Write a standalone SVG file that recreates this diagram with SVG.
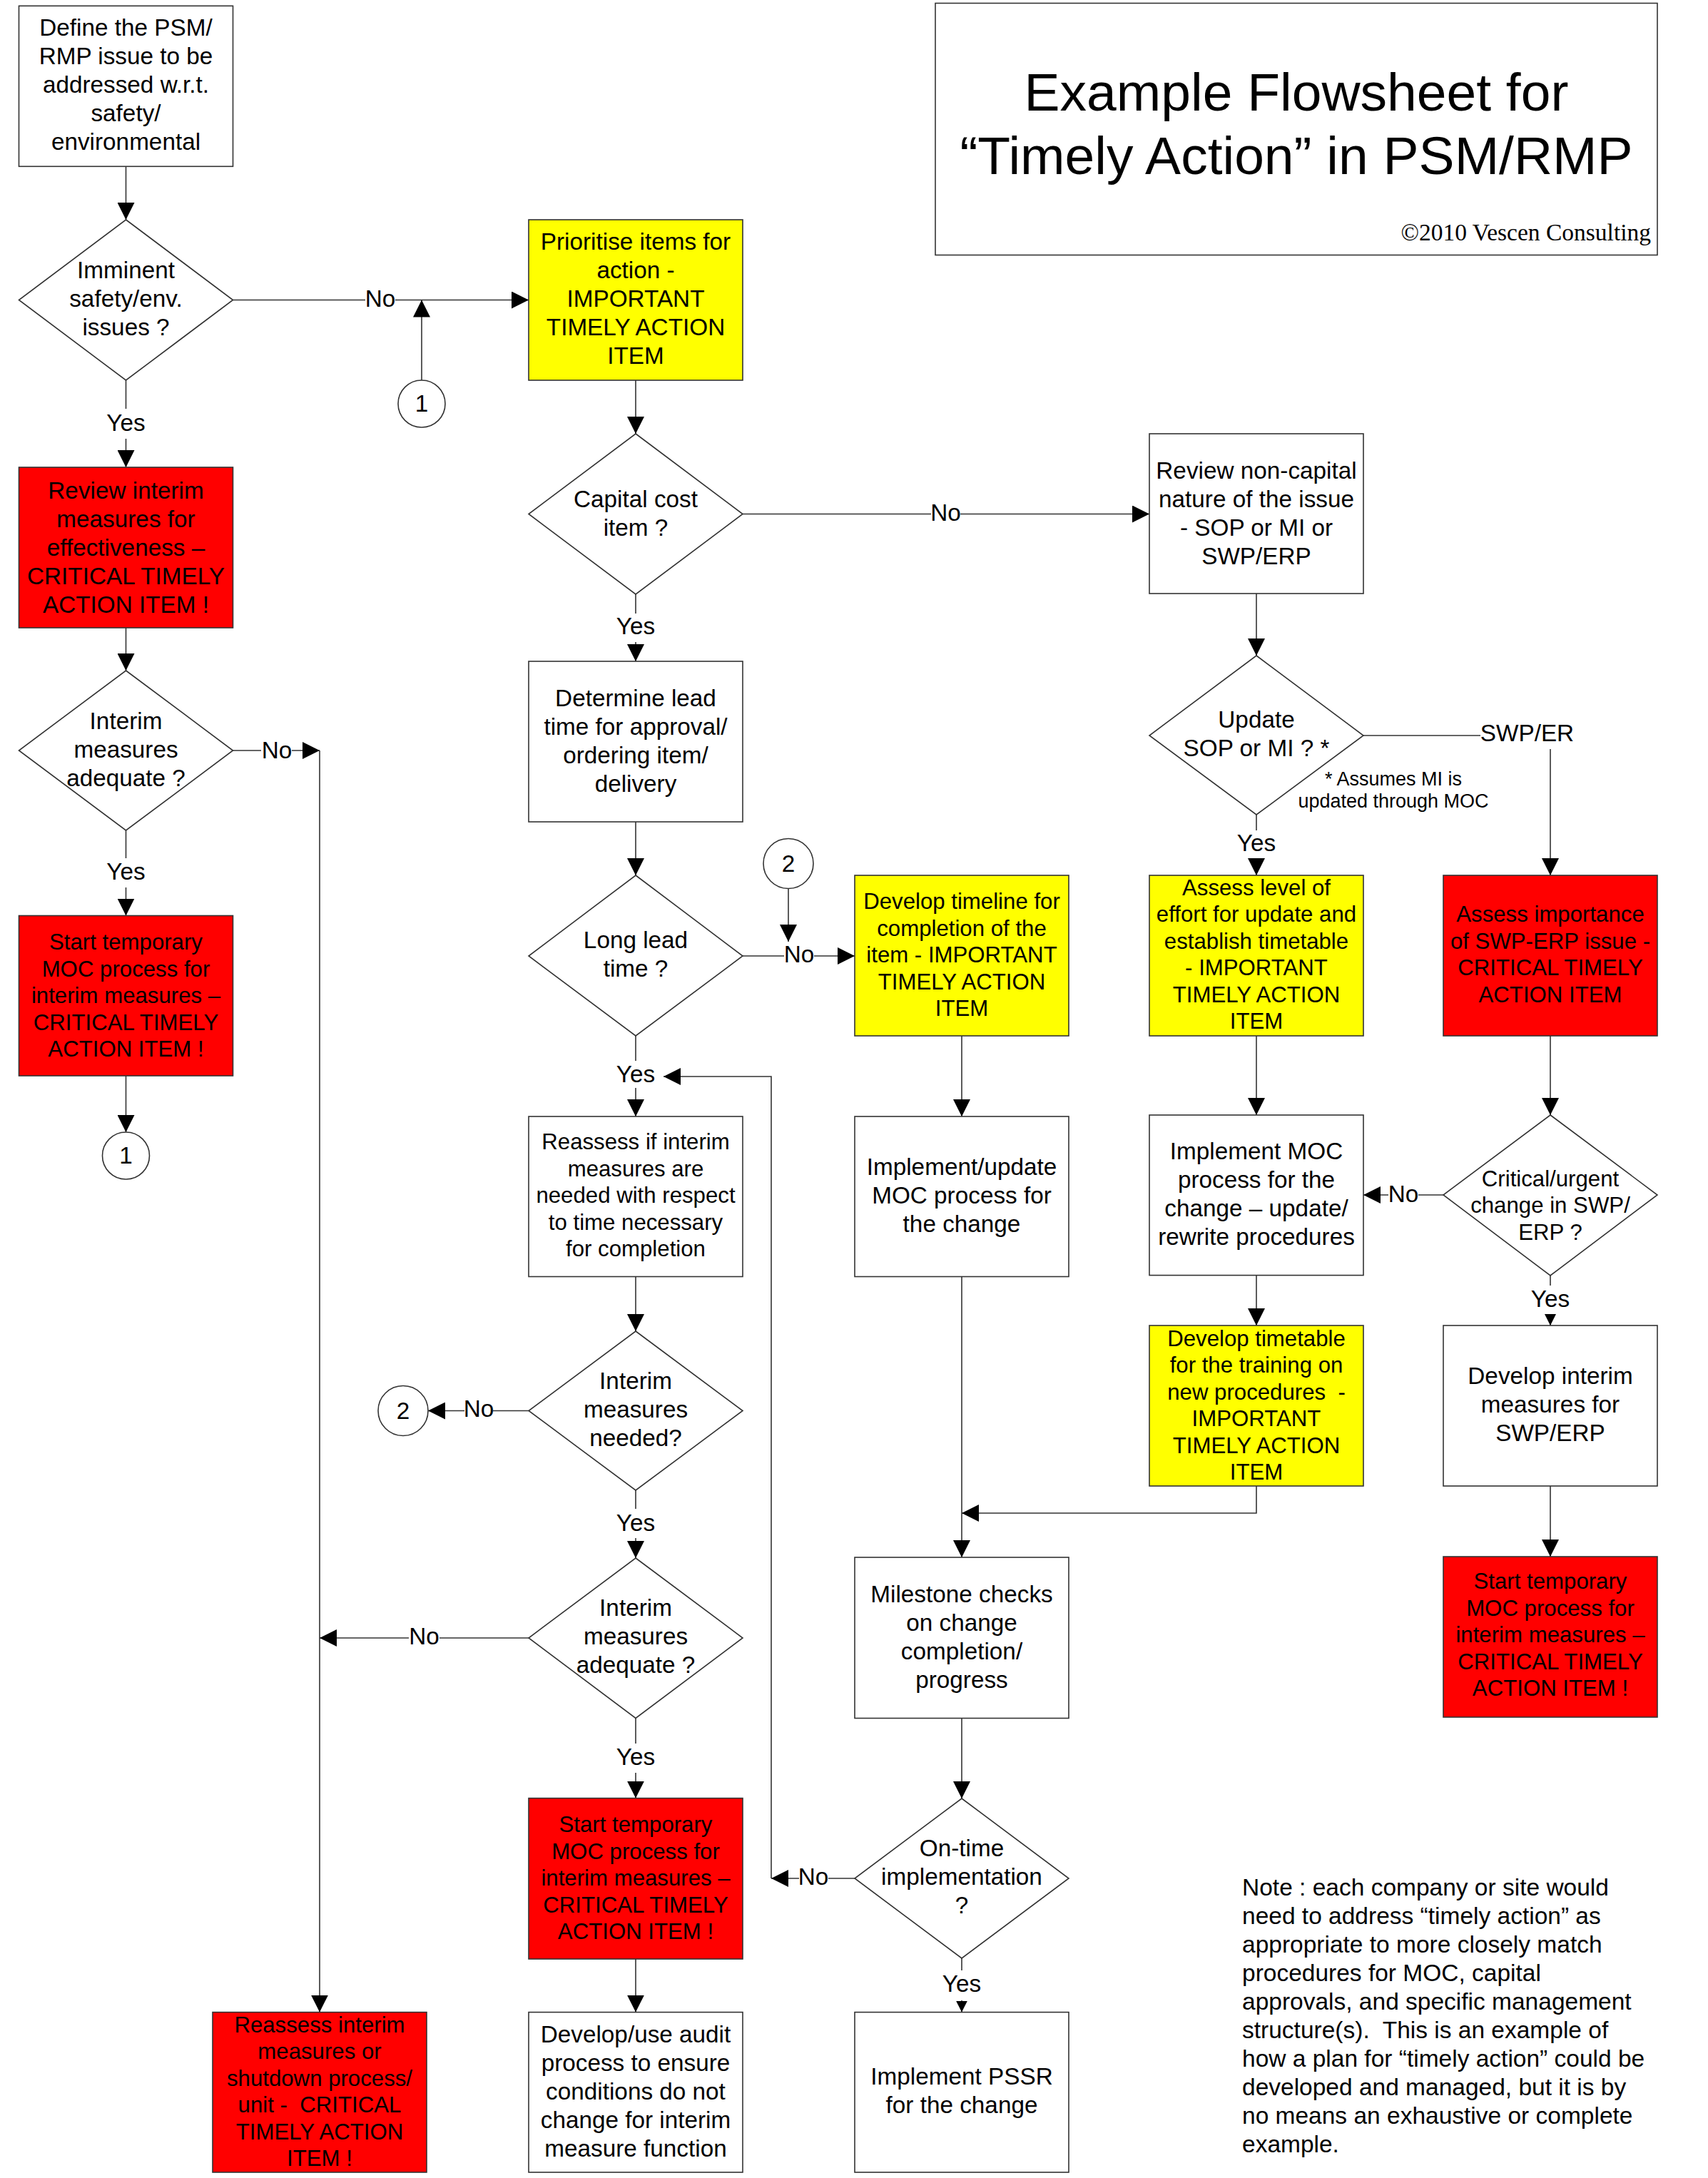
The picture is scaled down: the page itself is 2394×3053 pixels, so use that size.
<svg xmlns="http://www.w3.org/2000/svg" width="2394" height="3053" viewBox="0 0 2394 3053">
<style>
.bx{stroke:#333;stroke-width:1.6}
.w{fill:#fff}.y{fill:#ff0}.r{fill:#f00}
.t{font-family:"Liberation Sans",Arial,sans-serif;font-size:33.3px;text-anchor:middle;fill:#000}
.s{font-size:31.2px}
.ln{fill:none;stroke:#333;stroke-width:1.6}
.a{marker-end:url(#ah)}
.as{marker-end:url(#ahs)}
</style>
<defs>
<marker id="ah" markerUnits="userSpaceOnUse" markerWidth="24" markerHeight="24" viewBox="0 0 24 24" refX="24" refY="12" orient="auto"><path d="M0,0 L24,12 L0,24 z" fill="#000"/></marker>
<marker id="ahs" markerUnits="userSpaceOnUse" markerWidth="16" markerHeight="16" viewBox="0 0 16 16" refX="16" refY="8" orient="auto"><path d="M0,0 L16,8 L0,16 z" fill="#000"/></marker>
</defs>
<rect x="0" y="0" width="2394" height="3053" fill="#fff"/>

<g id="connectors">
<path class="ln a" d="M176.5,233 V308"/>
<path class="ln" d="M176.5,533 V573"/><path class="ln a" d="M176.5,615 V655"/>
<path class="ln" d="M326.5,420.5 H512"/><path class="ln a" d="M554,420.5 H741"/>
<path class="ln a" d="M591,533 V420.5"/>
<path class="ln a" d="M176.5,880 V940"/>
<path class="ln" d="M326.5,1052 H366"/><path class="ln a" d="M409,1052 H448"/>
<path class="ln a" d="M448,1052 V2820.6"/>
<path class="ln" d="M176.5,1164 V1203"/><path class="ln a" d="M176.5,1244 V1283.5"/>
<path class="ln a" d="M176.5,1508 V1587"/>
<path class="ln a" d="M891,533 V608"/>
<path class="ln" d="M1041,720.5 H1305"/><path class="ln a" d="M1346,720.5 H1611"/>
<path class="ln" d="M891,833 V860"/><path class="ln a" d="M891,900 V927"/>
<path class="ln a" d="M891,1152 V1227"/>
<path class="ln" d="M1041,1340 H1099"/><path class="ln a" d="M1141,1340 H1198"/>
<path class="ln a" d="M1105,1245.5 V1320"/>
<path class="ln" d="M891,1452 V1487"/><path class="ln a" d="M891,1525 V1565"/>
<path class="ln" d="M1198,2633 H1161"/><path class="ln a" d="M1120,2633 H1081"/>
<path class="ln a" d="M1081,2633 V1509 H930"/>
<path class="ln a" d="M1761,832 V919"/>
<path class="ln" d="M1911,1031 H2075"/><path class="ln a" d="M2173,1050 V1227"/>
<path class="ln" d="M1761,1142 V1164"/><path class="ln a" d="M1761,1203 V1227"/>
<path class="ln a" d="M1348,1452 V1565"/>
<path class="ln a" d="M1761,1452 V1563"/>
<path class="ln a" d="M2173,1452 V1563"/>
<path class="ln" d="M2023,1675 H1988"/><path class="ln a" d="M1946,1675 H1911"/>
<path class="ln" d="M2173,1788 V1802"/><path class="ln as" d="M2173,1842 V1858"/>
<path class="ln a" d="M1761,1787.6 V1858"/>
<path class="ln a" d="M1761,2083 V2121 H1348"/>
<path class="ln a" d="M1348,1789.5 V2183"/>
<path class="ln a" d="M2173,2083 V2182"/>
<path class="ln a" d="M891,1789.5 V1866"/>
<path class="ln" d="M741,1977.5 H691"/><path class="ln a" d="M651,1977.5 H600"/>
<path class="ln" d="M891,2089 V2115"/><path class="ln a" d="M891,2156 V2184"/>
<path class="ln" d="M741,2296 H616"/><path class="ln a" d="M573,2296 H448"/>
<path class="ln" d="M891,2408.5 V2444"/><path class="ln a" d="M891,2485 V2520.6"/>
<path class="ln a" d="M891,2746 V2820.6"/>
<path class="ln a" d="M1348,2408.5 V2521"/>
<path class="ln" d="M1348,2745 V2762"/><path class="ln as" d="M1348,2804 V2820.6"/>
<text class="t" x="176.5" y="604">Yes</text>
<text class="t" x="533" y="430">No</text>
<text class="t" x="388" y="1062.6">No</text>
<text class="t" x="176.5" y="1233">Yes</text>
<text class="t" x="1325.5" y="730">No</text>
<text class="t" x="891" y="889">Yes</text>
<text class="t" x="1120" y="1349">No</text>
<text class="t" x="891" y="1517">Yes</text>
<text class="t" x="1140" y="2642">No</text>
<text class="t" x="2140.5" y="1039">SWP/ER</text>
<text class="t" x="1761" y="1193">Yes</text>
<text class="t" x="1967" y="1685">No</text>
<text class="t" x="2173" y="1832">Yes</text>
<text class="t" x="671" y="1986">No</text>
<text class="t" x="891" y="2145.6">Yes</text>
<text class="t" x="594.5" y="2305">No</text>
<text class="t" x="891" y="2473.7">Yes</text>
<text class="t" x="1348" y="2791.6">Yes</text>
</g>

<g id="title">
<rect class="bx w" x="1311" y="4.5" width="1012" height="353"/>
<text class="t" style="font-size:75px"><tspan x="1817" y="155">Example Flowsheet for</tspan><tspan x="1817" y="244">“Timely Action” in PSM/RMP</tspan></text>
<text x="2314" y="336.6" style="font-family:'Liberation Serif','Times New Roman',serif;font-size:33.5px;text-anchor:end;fill:#000">©2010 Vescen Consulting</text>
</g>

<g id="n-define">
<rect class="bx w" x="26.5" y="8.3" width="300" height="225"/>
<text class="t"><tspan x="176.5" y="50.2">Define the PSM/</tspan><tspan x="176.5" y="90.2">RMP issue to be</tspan><tspan x="176.5" y="130.2">addressed w.r.t.</tspan><tspan x="176.5" y="170.2">safety/</tspan><tspan x="176.5" y="210.2">environmental</tspan></text>
</g>
<g id="n-imminent">
<polygon class="bx w" points="176.5,308 326.5,420.5 176.5,533 26.5,420.5"/>
<text class="t"><tspan x="176.5" y="390">Imminent</tspan><tspan x="176.5" y="430">safety/env.</tspan><tspan x="176.5" y="470">issues ?</tspan></text>
</g>
<g id="n-review-interim">
<rect class="bx r" x="26.5" y="655" width="300" height="225"/>
<text class="t"><tspan x="176.5" y="698.5">Review interim</tspan><tspan x="176.5" y="738.5">measures for</tspan><tspan x="176.5" y="778.5">effectiveness –</tspan><tspan x="176.5" y="818.5">CRITICAL TIMELY</tspan><tspan x="176.5" y="858.5">ACTION ITEM !</tspan></text>
</g>
<g id="n-interim-adequate-1">
<polygon class="bx w" points="176.5,940 326.5,1052 176.5,1164 26.5,1052"/>
<text class="t"><tspan x="176.5" y="1022">Interim</tspan><tspan x="176.5" y="1062">measures</tspan><tspan x="176.5" y="1102">adequate ?</tspan></text>
</g>
<g id="n-start-temp-1">
<rect class="bx r" x="26.5" y="1283.5" width="300" height="224.5"/>
<text class="t s"><tspan x="176.5" y="1331">Start temporary</tspan><tspan x="176.5" y="1368.5">MOC process for</tspan><tspan x="176.5" y="1406">interim measures –</tspan><tspan x="176.5" y="1443.5">CRITICAL TIMELY</tspan><tspan x="176.5" y="1481">ACTION ITEM !</tspan></text>
</g>
<g id="n-conn-1b">
<circle class="bx w" cx="176.5" cy="1620" r="33"/>
<text class="t" x="176.5" y="1631">1</text>
</g>
<g id="n-conn-1a">
<circle class="bx w" cx="591" cy="566" r="33"/>
<text class="t" x="591" y="577">1</text>
</g>
<g id="n-reassess-shutdown">
<rect class="bx r" x="298" y="2820.6" width="300" height="224.4"/>
<text class="t s" xml:space="preserve"><tspan x="448" y="2848.5">Reassess interim</tspan><tspan x="448" y="2886">measures or</tspan><tspan x="448" y="2923.5">shutdown process/</tspan><tspan x="448" y="2961">unit -  CRITICAL</tspan><tspan x="448" y="2998.5">TIMELY ACTION</tspan><tspan x="448" y="3036">ITEM !</tspan></text>
</g>
<g id="n-prioritise">
<rect class="bx y" x="741" y="308" width="300" height="225"/>
<text class="t"><tspan x="891" y="350">Prioritise items for</tspan><tspan x="891" y="390">action -</tspan><tspan x="891" y="430">IMPORTANT</tspan><tspan x="891" y="470">TIMELY ACTION</tspan><tspan x="891" y="510">ITEM</tspan></text>
</g>
<g id="n-capital">
<polygon class="bx w" points="891,608 1041,720.5 891,833 741,720.5"/>
<text class="t"><tspan x="891" y="710.5">Capital cost</tspan><tspan x="891" y="750.5">item ?</tspan></text>
</g>
<g id="n-determine">
<rect class="bx w" x="741" y="927" width="300" height="225"/>
<text class="t"><tspan x="891" y="989.5">Determine lead</tspan><tspan x="891" y="1029.5">time for approval/</tspan><tspan x="891" y="1069.5">ordering item/</tspan><tspan x="891" y="1109.5">delivery</tspan></text>
</g>
<g id="n-long-lead">
<polygon class="bx w" points="891,1227 1041,1340 891,1452 741,1340"/>
<text class="t"><tspan x="891" y="1329">Long lead</tspan><tspan x="891" y="1369">time ?</tspan></text>
</g>
<g id="n-conn-2a">
<circle class="bx w" cx="1105" cy="1210.5" r="35"/>
<text class="t" x="1105" y="1221.5">2</text>
</g>
<g id="n-reassess-needed">
<rect class="bx w" x="741" y="1565" width="300" height="224.5"/>
<text class="t s"><tspan x="891" y="1611">Reassess if interim</tspan><tspan x="891" y="1648.5">measures are</tspan><tspan x="891" y="1686">needed with respect</tspan><tspan x="891" y="1723.5">to time necessary</tspan><tspan x="891" y="1761">for completion</tspan></text>
</g>
<g id="n-interim-needed">
<polygon class="bx w" points="891,1866 1041,1977.5 891,2089 741,1977.5"/>
<text class="t"><tspan x="891" y="1947">Interim</tspan><tspan x="891" y="1987">measures</tspan><tspan x="891" y="2027">needed?</tspan></text>
</g>
<g id="n-conn-2b">
<circle class="bx w" cx="565" cy="1977.5" r="35"/>
<text class="t" x="565" y="1988.5">2</text>
</g>
<g id="n-interim-adequate-2">
<polygon class="bx w" points="891,2184 1041,2296 891,2408.5 741,2296"/>
<text class="t"><tspan x="891" y="2265">Interim</tspan><tspan x="891" y="2305">measures</tspan><tspan x="891" y="2345">adequate ?</tspan></text>
</g>
<g id="n-start-temp-2">
<rect class="bx r" x="741" y="2520.6" width="300" height="225.4"/>
<text class="t s"><tspan x="891" y="2568">Start temporary</tspan><tspan x="891" y="2605.5">MOC process for</tspan><tspan x="891" y="2643">interim measures –</tspan><tspan x="891" y="2680.5">CRITICAL TIMELY</tspan><tspan x="891" y="2718">ACTION ITEM !</tspan></text>
</g>
<g id="n-audit">
<rect class="bx w" x="741" y="2820.6" width="300" height="224.4"/>
<text class="t"><tspan x="891" y="2862.5">Develop/use audit</tspan><tspan x="891" y="2902.5">process to ensure</tspan><tspan x="891" y="2942.5">conditions do not</tspan><tspan x="891" y="2982.5">change for interim</tspan><tspan x="891" y="3022.5">measure function</tspan></text>
</g>
<g id="n-timeline">
<rect class="bx y" x="1198" y="1227" width="300" height="225"/>
<text class="t s"><tspan x="1348" y="1274">Develop timeline for</tspan><tspan x="1348" y="1311.5">completion of the</tspan><tspan x="1348" y="1349">item - IMPORTANT</tspan><tspan x="1348" y="1386.5">TIMELY ACTION</tspan><tspan x="1348" y="1424">ITEM</tspan></text>
</g>
<g id="n-implement-update">
<rect class="bx w" x="1198" y="1565" width="300" height="224.5"/>
<text class="t"><tspan x="1348" y="1647">Implement/update</tspan><tspan x="1348" y="1687">MOC process for</tspan><tspan x="1348" y="1727">the change</tspan></text>
</g>
<g id="n-milestone">
<rect class="bx w" x="1198" y="2183" width="300" height="225.5"/>
<text class="t"><tspan x="1348" y="2245.6">Milestone checks</tspan><tspan x="1348" y="2285.6">on change</tspan><tspan x="1348" y="2325.6">completion/</tspan><tspan x="1348" y="2365.6">progress</tspan></text>
</g>
<g id="n-on-time">
<polygon class="bx w" points="1348,2521 1498,2633 1348,2745 1198,2633"/>
<text class="t"><tspan x="1348" y="2602">On-time</tspan><tspan x="1348" y="2642">implementation</tspan><tspan x="1348" y="2682">?</tspan></text>
</g>
<g id="n-pssr">
<rect class="bx w" x="1198" y="2820.6" width="300" height="224.4"/>
<text class="t"><tspan x="1348" y="2922">Implement PSSR</tspan><tspan x="1348" y="2962">for the change</tspan></text>
</g>
<g id="n-review-noncapital">
<rect class="bx w" x="1611" y="608" width="300" height="224"/>
<text class="t"><tspan x="1761" y="670.5">Review non-capital</tspan><tspan x="1761" y="710.5">nature of the issue</tspan><tspan x="1761" y="750.5">- SOP or MI or</tspan><tspan x="1761" y="790.5">SWP/ERP</tspan></text>
</g>
<g id="n-update">
<polygon class="bx w" points="1761,919 1911,1031 1761,1142 1611,1031"/>
<text class="t"><tspan x="1761" y="1019.6">Update</tspan><tspan x="1761" y="1059.6">SOP or MI ? *</tspan></text>
</g>
<g id="footnote">
<text class="t" style="font-size:27px"><tspan x="1953" y="1100.6">* Assumes MI is</tspan><tspan x="1953" y="1132">updated through MOC</tspan></text>
</g>
<g id="n-assess-level">
<rect class="bx y" x="1611" y="1227" width="300" height="225"/>
<text class="t s"><tspan x="1761" y="1254.5">Assess level of</tspan><tspan x="1761" y="1292">effort for update and</tspan><tspan x="1761" y="1329.5">establish timetable</tspan><tspan x="1761" y="1367">- IMPORTANT</tspan><tspan x="1761" y="1404.5">TIMELY ACTION</tspan><tspan x="1761" y="1442">ITEM</tspan></text>
</g>
<g id="n-implement-moc">
<rect class="bx w" x="1611" y="1563" width="300" height="224.6"/>
<text class="t"><tspan x="1761" y="1625">Implement MOC</tspan><tspan x="1761" y="1665">process for the</tspan><tspan x="1761" y="1705">change – update/</tspan><tspan x="1761" y="1745">rewrite procedures</tspan></text>
</g>
<g id="n-timetable">
<rect class="bx y" x="1611" y="1858" width="300" height="225"/>
<text class="t s" xml:space="preserve"><tspan x="1761" y="1886.5">Develop timetable</tspan><tspan x="1761" y="1924">for the training on</tspan><tspan x="1761" y="1961.5">new procedures  -</tspan><tspan x="1761" y="1999">IMPORTANT</tspan><tspan x="1761" y="2036.5">TIMELY ACTION</tspan><tspan x="1761" y="2074">ITEM</tspan></text>
</g>
<g id="n-assess-importance">
<rect class="bx r" x="2023" y="1227" width="300" height="225"/>
<text class="t s"><tspan x="2173" y="1292">Assess importance</tspan><tspan x="2173" y="1329.5">of SWP-ERP issue -</tspan><tspan x="2173" y="1367">CRITICAL TIMELY</tspan><tspan x="2173" y="1404.5">ACTION ITEM</tspan></text>
</g>
<g id="n-critical-urgent">
<polygon class="bx w" points="2173,1563 2323,1675 2173,1788 2023,1675"/>
<text class="t s"><tspan x="2173" y="1662.7">Critical/urgent</tspan><tspan x="2173" y="1700.3">change in SWP/</tspan><tspan x="2173" y="1737.9">ERP ?</tspan></text>
</g>
<g id="n-develop-interim">
<rect class="bx w" x="2023" y="1858" width="300" height="225"/>
<text class="t"><tspan x="2173" y="1940">Develop interim</tspan><tspan x="2173" y="1980">measures for</tspan><tspan x="2173" y="2020">SWP/ERP</tspan></text>
</g>
<g id="n-start-temp-3">
<rect class="bx r" x="2023" y="2182" width="300" height="225"/>
<text class="t s"><tspan x="2173" y="2227">Start temporary</tspan><tspan x="2173" y="2264.5">MOC process for</tspan><tspan x="2173" y="2302">interim measures –</tspan><tspan x="2173" y="2339.5">CRITICAL TIMELY</tspan><tspan x="2173" y="2377">ACTION ITEM !</tspan></text>
</g>
<g id="note">
<text class="t" style="font-size:33.5px;text-anchor:start" xml:space="preserve"><tspan x="1741" y="2657">Note : each company or site would</tspan><tspan x="1741" y="2697">need to address “timely action” as</tspan><tspan x="1741" y="2737">appropriate to more closely match</tspan><tspan x="1741" y="2777">procedures for MOC, capital</tspan><tspan x="1741" y="2817">approvals, and specific management</tspan><tspan x="1741" y="2857">structure(s).  This is an example of</tspan><tspan x="1741" y="2897">how a plan for “timely action” could be</tspan><tspan x="1741" y="2937">developed and managed, but it is by</tspan><tspan x="1741" y="2977">no means an exhaustive or complete</tspan><tspan x="1741" y="3017">example.</tspan></text>
</g>
</svg>
